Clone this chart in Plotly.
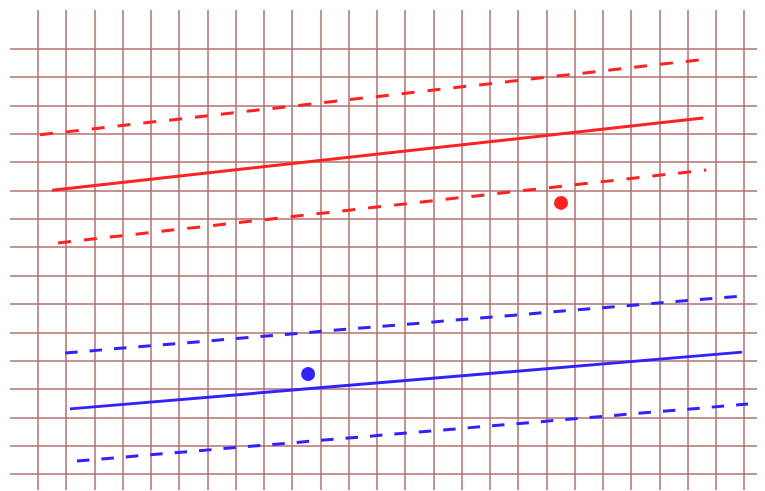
import plotly.graph_objects as go

# grid ticks (data units)
x_ticks = list(range(0, 26))
y_ticks = list(range(0, 16))

# red group: fit line, upper / lower band, observed point
red_x = [0.5, 23.54]
red_fit = [10.02, 12.56]
red_up_x = [0.07, 23.65]
red_up = [11.97, 14.64]
red_lo_x = [0.71, 23.65]
red_lo = [8.16, 10.73]
red_pt_x = [18.51]
red_pt_y = [9.57]

# blue group
blue_x = [1.13, 24.92]
blue_fit = [2.31, 4.31]
blue_up_x = [0.96, 24.92]
blue_up = [4.28, 6.29]
blue_lo_x = [1.38, 25.13]
blue_lo = [0.47, 2.48]
blue_pt_x = [9.56]
blue_pt_y = [3.54]

RED = "#ff2222"
BLUE = "#3322ff"

fig = go.Figure()

def line(x, y, color, dash=None):
    fig.add_trace(go.Scatter(x=x, y=y, mode="lines",
                             line=dict(color=color, width=3, dash=dash),
                             showlegend=False, hoverinfo="skip"))

DASH_R = "13px,13px"
DASH_B = "12.5px,12px"
line(red_up_x, red_up, RED, DASH_R)
line(red_x, red_fit, RED)
line(red_lo_x, red_lo, RED, DASH_R)
line(blue_up_x, blue_up, BLUE, DASH_B)
line(blue_x, blue_fit, BLUE)
line(blue_lo_x, blue_lo, BLUE, DASH_B)

fig.add_trace(go.Scatter(x=red_pt_x, y=red_pt_y, mode="markers",
                         marker=dict(color=RED, size=14), showlegend=False))
fig.add_trace(go.Scatter(x=blue_pt_x, y=blue_pt_y, mode="markers",
                         marker=dict(color=BLUE, size=14), showlegend=False))

GRID = "rgba(175,105,105,0.72)"

fig.update_layout(
    width=757, height=483,
    margin=dict(l=2, r=0, t=2, b=1),
    paper_bgcolor="white", plot_bgcolor="white",
    xaxis=dict(range=[-0.991, 25.73], tickvals=x_ticks, showticklabels=False,
               showgrid=True, gridcolor=GRID, gridwidth=2.2,
               zeroline=False, showline=False, ticks=""),
    yaxis=dict(range=[-0.55, 16.37], tickvals=y_ticks, showticklabels=False,
               showgrid=True, gridcolor=GRID, gridwidth=2.2,
               zeroline=False, showline=False, ticks=""),
)

fig.write_html("out.html")
